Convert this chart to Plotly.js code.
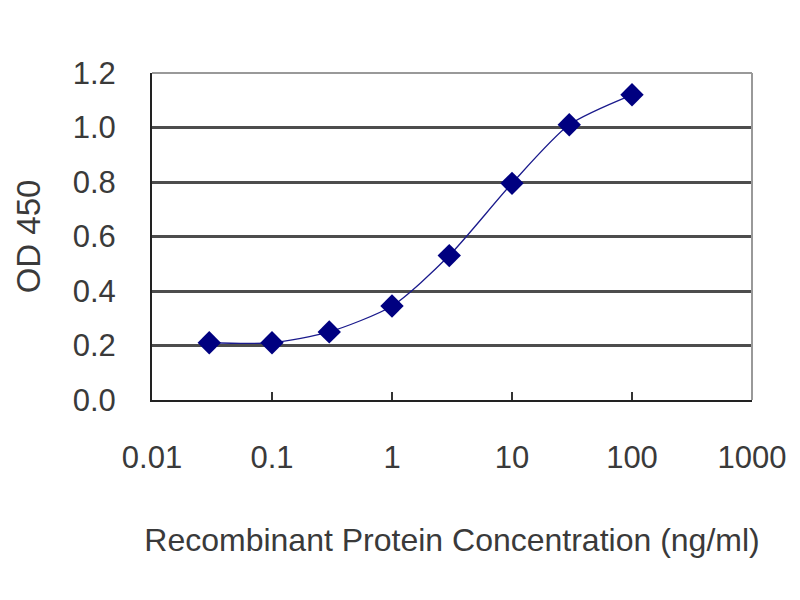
<!DOCTYPE html>
<html>
<head>
<meta charset="utf-8">
<script src="https://cdn.plot.ly/plotly-3.0.1.min.js"></script>
<style>html,body{margin:0;padding:0;background:#fff;}#chart{width:800px;height:600px;}</style>
</head>
<body>
<div id="chart"></div>
<script>
const concentration = [0.03, 0.1, 0.3, 1, 3, 10, 30, 100];
const od450 = [0.21, 0.21, 0.25, 0.345, 0.53, 0.795, 1.01, 1.12];
const xTickVals = [0.01, 0.1, 1, 10, 100, 1000];
const xTickText = ['0.01', '0.1', '1', '10', '100', '1000'];
const yTickVals = [0, 0.2, 0.4, 0.6, 0.8, 1.0, 1.2];
const yTickText = ['0.0', '0.2', '0.4', '0.6', '0.8', '1.0', '1.2'];

const fontFam = 'Arial, "Liberation Sans", sans-serif';

const trace = {
  x: concentration,
  y: od450,
  type: 'scatter',
  mode: 'lines+markers',
  line: {color: '#1a1a8c', width: 1.3, shape: 'spline', smoothing: 0.7},
  marker: {symbol: 'diamond', size: 18, color: '#000080'},
  cliponaxis: false,
  showlegend: false
};

const layout = {
  width: 800, height: 600,
  margin: {l: 152, r: 48, t: 73, b: 200},
  paper_bgcolor: '#fff', plot_bgcolor: '#fff',
  font: {family: fontFam, color: '#3a3a3a', size: 30},
  xaxis: {
    type: 'log',
    range: [-2, 3],
    tickvals: xTickVals, ticktext: xTickText,
    ticks: 'inside', ticklen: 8, tickcolor: '#333', tickwidth: 2,
    showline: true, linecolor: '#222', linewidth: 2,
    showgrid: false, zeroline: false,
    tickfont: {family: fontFam, size: 31, color: '#3a3a3a'},
    ticklabelstandoff: 29,
    title: {text: 'Recombinant Protein Concentration (ng/ml)', font: {family: fontFam, size: 32, color: '#3a3a3a'}, standoff: 54}
  },
  yaxis: {
    range: [0, 1.2],
    tickvals: yTickVals, ticktext: yTickText,
    ticks: '', showline: true, linecolor: '#222', linewidth: 2,
    showgrid: true, gridcolor: '#4d4d4d', gridwidth: 3, zeroline: false,
    tickfont: {family: fontFam, size: 31, color: '#3a3a3a'},
    ticklabelstandoff: 28,
    title: {text: 'OD 450', font: {family: fontFam, size: 33, color: '#3a3a3a'}, standoff: 22}
  },
  shapes: [
    {type: 'line', xref: 'paper', yref: 'paper', x0: 0, x1: 1, y0: 1, y1: 1, line: {color: '#999', width: 2}},
    {type: 'line', xref: 'paper', yref: 'paper', x0: 1, x1: 1, y0: 0, y1: 1, line: {color: '#999', width: 2}}
  ]
};

Plotly.newPlot('chart', [trace], layout, {displayModeBar: false, staticPlot: true});
</script>
</body>
</html>
